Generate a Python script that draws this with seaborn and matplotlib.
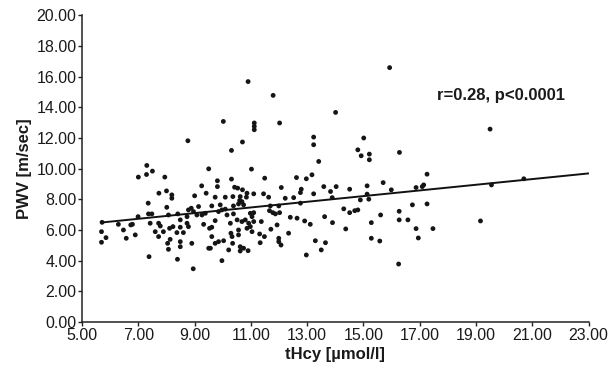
import numpy as np
import pandas as pd
import matplotlib
matplotlib.use("Agg")
import matplotlib.pyplot as plt
import seaborn as sns

# tHcy [umol/l] values
thcy = [
    8.76, 7.30, 7.50, 7.00, 7.29, 7.94, 9.50, 7.73, 8.00, 8.19, 8.19, 9.25, 9.00, 9.41,
    7.35, 8.01, 6.99, 7.36, 7.48, 5.71, 6.29, 6.73, 6.79, 7.42, 7.72, 7.78, 8.07, 8.40,
    8.78, 8.88, 8.96, 9.14, 9.08, 8.73, 8.49, 8.73, 6.47, 5.69, 5.85, 5.69, 6.57, 6.89,
    7.60, 7.72, 7.89, 8.11, 8.23, 8.37, 8.49, 8.60, 8.78, 8.49, 8.49, 8.04, 8.07, 8.13,
    8.90, 9.50, 7.38, 8.39, 8.95,
    10.90, 11.79, 10.02, 11.12, 11.12, 11.12, 12.02, 10.70, 10.31, 13.23, 13.23, 13.41,
    11.02, 11.49, 10.31, 9.81, 9.81, 12.62, 12.97, 13.17, 13.59, 10.42, 10.53, 10.70,
    12.08, 12.79, 12.76, 11.10, 11.45, 11.63, 9.73, 10.09, 10.36, 10.62, 10.84, 12.22,
    12.52, 13.23, 10.60, 10.86, 12.76,
    9.26, 9.38, 9.61, 9.85, 9.97, 10.09, 9.91, 10.38, 10.56, 10.68, 10.74, 10.98, 11.10,
    11.04, 10.15, 10.38, 11.66, 11.78, 11.87, 12.02, 11.99, 11.69, 12.40, 12.64, 12.91,
    13.11, 13.62, 9.32, 9.53, 9.61, 9.73, 10.27, 10.51, 10.68, 10.80, 10.92, 11.10,
    10.98, 11.37, 10.56, 10.56, 10.86, 11.04, 11.71, 11.93, 12.34, 11.31, 11.48, 11.33,
    11.99, 11.99, 12.07, 10.29, 10.33, 10.35, 9.61, 9.73, 9.85, 10.03, 9.56, 10.21,
    10.62, 10.62, 10.74, 10.90, 9.97, 13.29, 13.65, 13.50, 12.97,
    15.93, 14.01, 15.01, 14.80, 14.92, 15.21, 15.21, 16.28, 17.26, 17.14, 17.09, 16.87,
    15.99, 15.70, 15.13, 15.13, 14.51, 14.03, 13.83, 13.89,
    15.19, 14.89, 14.30, 14.51, 14.69, 14.80, 13.90, 14.37, 15.61, 15.28, 16.27, 16.27,
    16.58, 16.74, 17.26, 16.87, 17.47, 16.95, 15.28, 15.58, 16.25,
    19.50, 19.16, 19.55, 20.70,
]

# PWV [m/sec] values
pwv = [
    11.83, 10.22, 9.85, 9.46, 9.63, 9.46, 10.00, 8.41, 8.56, 8.30, 8.08, 8.89, 8.24, 8.41,
    7.76, 7.49, 6.88, 7.06, 7.06, 6.51, 6.38, 6.34, 6.38, 6.45, 6.45, 6.27, 6.99, 7.06,
    7.32, 7.43, 7.21, 7.54, 6.99, 6.88, 6.67, 6.45, 6.01, 5.90, 5.51, 5.21, 5.47, 5.69,
    5.90, 5.58, 5.90, 6.12, 6.23, 5.84, 6.19, 5.84, 6.23, 5.25, 4.92, 5.14, 4.75, 5.40,
    5.14, 4.82, 4.27, 4.10, 3.48,
    15.69, 14.79, 13.09, 12.99, 12.77, 12.55, 12.99, 11.75, 11.20, 12.07, 11.57, 10.48,
    9.98, 9.39, 9.33, 9.22, 8.84, 9.43, 9.35, 9.61, 8.84, 8.80, 8.74, 8.63,
    8.78, 8.67, 8.45, 8.37, 8.37, 8.15, 8.15, 8.15, 8.19, 8.19, 8.15, 8.08,
    8.12, 8.37, 7.94, 8.41, 7.76,
    6.99, 7.10, 7.58, 7.21, 7.32, 7.37, 7.65, 7.58, 7.71, 7.86, 7.65, 7.10, 7.14,
    6.88, 6.99, 7.06, 7.27, 7.14, 7.06, 7.14, 7.58, 7.58, 6.84, 6.78, 6.60,
    6.38, 6.88, 6.38, 6.12, 6.19, 6.62, 6.45, 6.67, 6.56, 6.67, 6.45, 6.56,
    6.23, 6.56, 6.01, 5.69, 6.12, 5.90, 6.06, 6.34, 5.80, 5.75, 5.58, 5.18,
    5.47, 5.25, 5.03, 5.80, 5.58, 5.14, 5.58, 5.14, 5.25, 5.31, 4.82, 4.71,
    4.92, 4.64, 4.82, 4.66, 4.01, 5.31, 5.18, 4.71, 4.38,
    16.60, 13.68, 12.01, 11.24, 10.85, 10.96, 10.59, 11.07, 9.65, 8.95, 8.84, 8.78,
    8.63, 9.10, 8.89, 8.35, 8.67, 8.84, 8.52, 8.12,
    8.02, 7.97, 7.39, 7.14, 7.27, 7.32, 6.49, 6.08, 6.99, 6.49, 7.23, 6.67,
    6.67, 7.65, 7.71, 6.10, 6.10, 5.49, 5.47, 5.29, 3.79,
    12.59, 6.60, 8.95, 9.35,
]

# regression line end points
line_x = [5.70, 23.00]
line_y = [6.50, 9.70]

x_ticks = [5, 7, 9, 11, 13, 15, 17, 19, 21, 23]
y_ticks = [0, 2, 4, 6, 8, 10, 12, 14, 16, 18, 20]
annotation = "r=0.28, p<0.0001"

sns.set_style("ticks")
plt.rcParams["font.family"] = ["Liberation Sans", "DejaVu Sans"]

df = pd.DataFrame({"tHcy": thcy, "PWV": pwv})
line_df = pd.DataFrame({"x": line_x, "y": line_y})

fig = plt.figure(figsize=(6.08, 3.69), dpi=100)
ax = fig.add_axes([0.135, 0.127, 0.833, 0.831])

sns.scatterplot(data=df, x="tHcy", y="PWV", ax=ax, s=12, color="#151515",
                edgecolor="none", linewidth=0)
sns.lineplot(data=line_df, x="x", y="y", ax=ax, color="#111111", linewidth=1.4)

ax.set_xlim(5, 23)
ax.set_ylim(0, 20)
ax.set_xticks(x_ticks)
ax.set_yticks(y_ticks)
ax.set_xticklabels([f"{v:.2f}" for v in x_ticks], fontsize=11.5)
ax.set_yticklabels([f"{v:.2f}" for v in y_ticks], fontsize=11.5)
ax.tick_params(axis="both", direction="out", length=3, width=1, color="#222222",
               pad=1, labelcolor="#1a1a1a")
ax.set_xlabel("tHcy [µmol/l]", fontsize=12, fontweight="bold", labelpad=3,
              color="#1a1a1a")
ax.set_ylabel("PWV [m/sec]", fontsize=12, fontweight="bold", labelpad=3,
              color="#1a1a1a")
for side in ["top", "right"]:
    ax.spines[side].set_visible(False)
for side in ["left", "bottom"]:
    ax.spines[side].set_linewidth(1.1)
    ax.spines[side].set_color("#222222")

ax.text(17.63, 14.8, annotation, fontsize=12, fontweight="bold",
        ha="left", va="center", color="#1a1a1a")

fig.savefig("out.png", dpi=100)
